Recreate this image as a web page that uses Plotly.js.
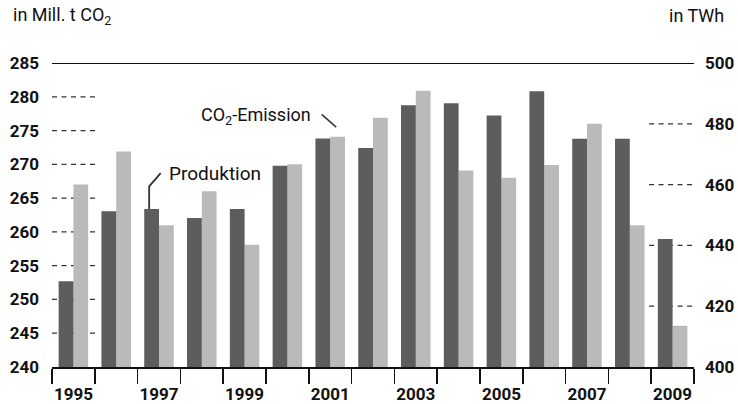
<!DOCTYPE html>
<html>
<head>
<meta charset="utf-8">
<script src="https://cdn.plot.ly/plotly-3.0.1.min.js"></script>
<style>html,body{margin:0;padding:0;background:#fff;}#chart{width:738px;height:404px;}</style>
</head>
<body>
<div id="chart"></div>
<script>
// Data
const years = ["1995","1996","1997","1998","1999","2000","2001","2002","2003","2004","2005","2006","2007","2008","2009"];
const yearLabels = ["1995"," ","1997"," ","1999"," ","2001"," ","2003"," ","2005"," ","2007"," ","2009"];
// Produktion in TWh (right axis)
const produktion = [428.2, 451.2, 452.0, 449.0, 452.0, 466.2, 475.2, 472.0, 486.1, 486.8, 482.7, 490.7, 475.1, 475.1, 442.1];
// CO2-Emission in Mill. t (left axis)
const emission = [267.0, 271.9, 261.0, 266.0, 258.1, 270.0, 274.1, 276.9, 280.9, 269.1, 268.0, 269.9, 276.0, 261.0, 246.1];
const leftTicks = [240,245,250,255,260,265,270,275,280,285];
const rightTicks = [400,420,440,460,480,500];
const leftDashLevels = [245,250,255,260,265,270,275,280];
const rightDashLevels = [420,440,460,480];

const DARK = "#5d5d5d", LIGHT = "#b9bab9", INK = "#111111";
const FONT = "Roboto, 'DejaVu Sans Condensed', sans-serif";

const traces = [
  {type:"bar", name:"Produktion", x:years, y:produktion, yaxis:"y2", offsetgroup:"a",
   marker:{color:DARK, line:{width:0}}, hoverinfo:"skip"},
  {type:"bar", name:"CO₂-Emission", x:years, y:emission, yaxis:"y", offsetgroup:"b",
   marker:{color:LIGHT, line:{width:0}}, hoverinfo:"skip"}
];

const shapes = [];
leftDashLevels.forEach(v => shapes.push({type:"line", layer:"below", xref:"paper", yref:"y",
  x0:0, x1:0.07, y0:v, y1:v, line:{color:"#333", width:1.2, dash:"5px,4.5px"}}));
rightDashLevels.forEach(v => shapes.push({type:"line", layer:"below", xref:"paper", yref:"y2",
  x0:0.93, x1:1, y0:v, y1:v, line:{color:"#333", width:1.2, dash:"5px,4.5px"}}));
// top solid line
shapes.push({type:"line", xref:"paper", yref:"y", x0:0, x1:1, y0:285, y1:285, line:{color:INK, width:2}});
// leader lines
shapes.push({type:"path", xref:"x", yref:"y2", path:"M1.77,"+produktion[2]+" L1.77,459.4 L2.04,463.8",
  line:{color:"#333", width:1.8}});
shapes.push({type:"line", xref:"x", yref:"y", x0:5.80, y0:277.4, x1:6.14, y1:275.5,
  line:{color:"#333", width:1.5}});

const layout = {
  width:738, height:404,
  margin:{l:52, r:44, t:63, b:37, pad:0},
  paper_bgcolor:"#fff", plot_bgcolor:"rgba(0,0,0,0)",
  showlegend:false,
  barmode:"group", bargap:0.31, bargroupgap:0,
  font:{family:FONT, color:INK},
  xaxis:{type:"category", tickmode:"array", tickvals:years, ticktext:yearLabels, tickangle:0,
    tickson:"boundaries", ticks:"outside", ticklen:15, tickwidth:1.6, tickcolor:INK,
    ticklabelstandoff:11,
    showline:true, linecolor:INK, linewidth:1.6, showgrid:false, zeroline:false,
    tickfont:{family:FONT, size:17, color:INK, weight:700}, range:[-0.5,14.5], fixedrange:true},
  yaxis:{range:[240,285], tickmode:"array", tickvals:leftTicks, showgrid:false, zeroline:false,
    showline:false, ticks:"", ticklabelstandoff:12,
    tickfont:{family:FONT, size:17, color:INK, weight:700}, fixedrange:true},
  yaxis2:{range:[400,500], tickmode:"array", tickvals:rightTicks, overlaying:"y", side:"right",
    showgrid:false, zeroline:false, showline:false, ticks:"", ticklabelstandoff:10,
    tickfont:{family:FONT, size:17, color:INK, weight:700}, fixedrange:true},
  shapes:shapes,
  annotations:[
    {xref:"paper", yref:"paper", x:-0.064, y:1.155, xanchor:"left", yanchor:"middle",
     text:"in Mill. t CO<sub>2</sub>", showarrow:false, font:{family:FONT, size:18, color:INK}},
    {xref:"paper", yref:"paper", x:1.05, y:1.155, xanchor:"right", yanchor:"middle",
     text:"in TWh", showarrow:false, font:{family:FONT, size:18, color:INK}},
    {xref:"x", yref:"y2", x:2.18, y:463.8, xanchor:"left", yanchor:"middle",
     text:"Produktion", showarrow:false, font:{family:FONT, size:19, color:INK}},
    {xref:"x", yref:"y", x:5.6, y:277.1, xanchor:"right", yanchor:"middle",
     text:"CO<sub>2</sub>-Emission", showarrow:false, font:{family:FONT, size:18, color:INK}}
  ]
};

Plotly.newPlot("chart", traces, layout, {staticPlot:true, displayModeBar:false});
</script>
</body>
</html>
